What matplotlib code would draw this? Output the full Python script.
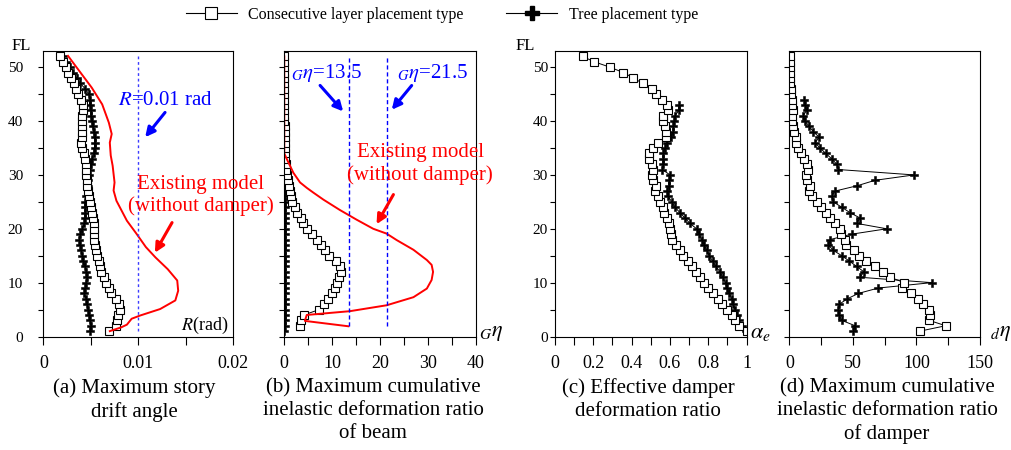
import matplotlib
matplotlib.use('Agg')
import matplotlib.pyplot as plt
from matplotlib.lines import Line2D
from matplotlib.ticker import FixedLocator, MultipleLocator, NullFormatter

plt.rcParams['font.family'] = ['Liberation Serif', 'DejaVu Serif']
plt.rcParams['mathtext.fontset'] = 'stix'

# ---------------- data ----------------
floors = list(range(1, 53))

# (a) maximum story drift angle [rad], floors 1..52
drift_consec = [0.0069, 0.0077, 0.0078, 0.0079, 0.0081, 0.0080, 0.0077, 0.0071, 0.0069, 0.0066,
                0.0064, 0.0061, 0.0060, 0.0059, 0.0057, 0.0055, 0.0054, 0.0053, 0.0053, 0.0053,
                0.0053, 0.0052, 0.0051, 0.0050, 0.0049, 0.0048, 0.0047, 0.0046, 0.0046, 0.0045,
                0.0045, 0.0045, 0.0044, 0.0043, 0.0041, 0.0040, 0.0041, 0.0041, 0.0041, 0.0041,
                0.0041, 0.0042, 0.0042, 0.0040, 0.0037, 0.0034, 0.0032, 0.0029, 0.0026, 0.0024,
                0.0021, 0.0018]
drift_tree = [0.0049, 0.0050, 0.0049, 0.0048, 0.0047, 0.0046, 0.0045, 0.0043, 0.0044, 0.0045,
              0.0046, 0.0045, 0.0044, 0.0042, 0.0041, 0.0040, 0.0039, 0.0038, 0.0039, 0.0041,
              0.0043, 0.0044, 0.0044, 0.0044, 0.0044, 0.0045, 0.0047, 0.0047, 0.0047, 0.0048,
              0.0049, 0.0050, 0.0051, 0.0053, 0.0054, 0.0054, 0.0054, 0.0053, 0.0052, 0.0051,
              0.0050, 0.0050, 0.0049, 0.0049, 0.0048, 0.0044, 0.0039, 0.0035, 0.0031, 0.0028,
              0.0024, 0.0021]
drift_exist_fl = [52.1, 46.2, 43.1, 39.7, 37.6, 36.0, 33.6, 31.7, 28.6, 27.1, 25.2, 21.5, 19.1,
                  16.6, 14.7, 12.5, 10.4, 8.5, 6.7, 5.1, 3.9, 3.3, 2.2, 1.7, 1.0]
drift_exist = [0.0026, 0.0051, 0.0062, 0.0069, 0.0072, 0.0070, 0.0071, 0.0073, 0.0075, 0.0074,
               0.0077, 0.0088, 0.0098, 0.0108, 0.0118, 0.0131, 0.0141, 0.0142, 0.0139, 0.0123,
               0.0102, 0.0093, 0.0088, 0.0082, 0.0070]
R_limit = 0.01

# (b) beam cumulative inelastic deformation ratio, floors 2..52
beam_floors = list(range(2, 53))
beam_consec = [3.3, 3.4, 4.1, 7.3, 8.2, 9.2, 9.9, 10.6, 11.1, 11.5, 11.8, 11.6, 10.9, 9.4, 8.5,
               7.6, 6.8, 5.7, 4.7, 4.0, 3.4, 2.7, 2.2, 1.7, 1.4, 1.2, 0.9, 0.7, 0.5, 0.4, 0.3,
               0.2, 0.2, 0.1, 0.1, 0.1, 0.1, 0.1, 0.0, 0.0, 0.0, 0.0, 0.0, 0.0, 0.0, 0.0, 0.0,
               0.0, 0.0, 0.0, 0.0]
beam_tree = [0.0, 0.1, 0.1, 0.2, 0.2, 0.2, 0.2, 0.2, 0.2, 0.2, 0.2, 0.2, 0.2, 0.2, 0.2, 0.2,
             0.2, 0.2, 0.2, 0.2, 0.2, 0.1, 0.1, 0.1, 0.1, 0.1, 0.1, 0.1, 0.1, 0.1, 0.1, 0.1,
             0.1, 0.0, 0.0, 0.0, 0.0, 0.0, 0.0, 0.0, 0.0, 0.0, 0.0, 0.0, 0.0, 0.0, 0.0, 0.0,
             0.0, 0.0, 0.0, 0.0]
beam_exist_fl = [52, 34, 33, 30.4, 28.6, 27.6, 26.7, 25.4, 23.5, 21.7, 20.0, 19.1, 17.9, 16.1,
                 14.2, 13.3, 12.0, 10.5, 8.9, 7.3, 5.8, 4.7, 4.0, 2.9, 1.9]
beam_exist = [0.0, 0.0, 0.5, 1.9, 3.3, 4.7, 6.1, 8.2, 11.6, 15.1, 18.6, 21.4, 23.5, 27.0, 29.8,
              30.8, 31.1, 30.8, 29.8, 27.0, 21.4, 13.7, 4.7, 4.3, 13.4]
G_eta_limits = [13.5, 21.5]

# (c) effective damper deformation ratio
alpha_consec = [1.0, 0.962, 0.939, 0.922, 0.900, 0.873, 0.852, 0.826, 0.800, 0.777, 0.757, 0.736,
                0.713, 0.692, 0.670, 0.652, 0.630, 0.609, 0.605, 0.600, 0.595, 0.583, 0.570,
                0.562, 0.548, 0.539, 0.522, 0.527, 0.513, 0.508, 0.513, 0.504, 0.490, 0.492,
                0.513, 0.539, 0.577, 0.577, 0.574, 0.565, 0.565, 0.591, 0.583, 0.557, 0.527,
                0.504, 0.457, 0.409, 0.357, 0.287, 0.205, 0.144]
tree_floors_c = list(range(1, 44))
alpha_tree = [0.995, 0.974, 0.962, 0.951, 0.939, 0.930, 0.922, 0.910, 0.896, 0.890, 0.875,
              0.861, 0.840, 0.823, 0.805, 0.791, 0.779, 0.765, 0.753, 0.739, 0.704, 0.678,
              0.652, 0.626, 0.609, 0.591, 0.583, 0.595, 0.595, 0.600, 0.560, 0.565, 0.565,
              0.565, 0.574, 0.583, 0.603, 0.617, 0.617, 0.621, 0.626, 0.647, 0.647]

# (d) damper cumulative inelastic deformation ratio
damp_consec = [102.8, 123.0, 109.9, 110.7, 109.9, 105.4, 101.5, 95.7, 88.9, 90.5, 79.2, 73.4,
               67.4, 60.3, 54.8, 50.9, 44.6, 43.8, 40.4, 39.9, 35.9, 32.0, 28.6, 24.9, 21.5,
               18.1, 15.5, 16.3, 13.6, 12.9, 14.9, 14.2, 11.5, 8.9, 6.6, 5.2, 5.2, 3.7, 2.6,
               1.8, 2.4, 3.1, 2.4, 1.8, 1.3, 1.0, 0.5, 0.5, 0.5, 0.5, 0.5, 0.5]
tree_floors_d = list(range(1, 45))
damp_tree = [50.4, 51.7, 41.2, 39.1, 38.5, 39.3, 45.6, 54.3, 70.0, 112.0, 55.6, 58.7, 53.0,
             47.2, 41.2, 34.6, 30.7, 32.0, 49.0, 76.6, 53.0, 55.6, 47.7, 41.2, 34.6, 33.3,
             35.9, 53.5, 67.4, 98.1, 38.6, 37.2, 33.3, 28.6, 24.1, 20.2, 23.6, 18.9, 15.7,
             12.3, 11.0, 13.6, 12.3, 11.8]

labels = ['Consecutive layer placement type', 'Tree placement type']

# ---------------- figure ----------------
fig = plt.figure(figsize=(10.12, 4.5), dpi=100)
bottom, height = 0.2522, 0.6344
ax_a = fig.add_axes([0.0428, bottom, 0.1877, height])
ax_b = fig.add_axes([0.2809, bottom, 0.1891, height])
ax_c = fig.add_axes([0.5484, bottom, 0.1894, height])
ax_d = fig.add_axes([0.7800, bottom, 0.1884, height])

sq = dict(color='k', lw=0.7, marker='s', ms=6, mfc='white', mec='k', mew=0.8)
pl = dict(color='k', lw=0.7, marker='P', ms=6, mfc='k', mec='k', mew=0.4)

for ax in (ax_a, ax_b, ax_c, ax_d):
    ax.set_ylim(0, 53)
    for s in ax.spines.values():
        s.set_linewidth(0.8)
    ax.tick_params(axis='x', which='both', direction='out', length=6, width=0.8,
                   labelsize=13, pad=7, top=False)
    ax.tick_params(axis='y', which='both', direction='out', length=3.6, width=0.8,
                   labelsize=11, right=False)

# (a)
ax_a.plot(drift_tree, floors, **pl)
ax_a.plot(drift_consec, floors, **sq)
ax_a.plot(drift_exist, drift_exist_fl, color='red', lw=1.4)
ax_a.vlines(R_limit, 1, 52, colors='#3c3cff', linestyles=(0, (2, 2)), lw=1.0)
ax_a.set_xlim(0, 0.02)
ax_a.xaxis.set_major_locator(FixedLocator([0, 0.01, 0.02]))
ax_a.set_xticklabels(['0', '0.01', '0.02'])
ax_a.xaxis.set_minor_locator(FixedLocator([0.005, 0.015]))
ax_a.yaxis.set_major_locator(MultipleLocator(10))
ax_a.yaxis.set_minor_locator(MultipleLocator(5))
ax_a.tick_params(axis='y', pad=11)
ax_a.text(-0.0023, 54.0, 'FL', fontsize=12, ha='center', va='center')
ax_a.text(0.0195, 2.1, '$R$(rad)', fontsize=13, ha='right', va='center')
ax_a.text(0.0129, 43.8, '$R$=0.01 rad', color='blue', fontsize=15, ha='center', va='center')
ax_a.annotate('', xy=(0.01054, 36.6), xytext=(0.0130, 42.0),
              arrowprops=dict(arrowstyle='-|>', color='blue', lw=2.2, mutation_scale=14))
ax_a.text(0.0166, 26.2, 'Existing model\n(without damper)', color='red', fontsize=15,
          ha='center', va='center', linespacing=1.2)
ax_a.annotate('', xy=(0.0116, 15.1), xytext=(0.0137, 21.6),
              arrowprops=dict(arrowstyle='-|>', color='red', lw=2.2, mutation_scale=14))

# (b)
ax_b.plot(beam_tree, floors, **pl)
ax_b.plot(beam_consec, beam_floors, **sq)
ax_b.plot(beam_exist, beam_exist_fl, color='red', lw=1.4)
ax_b.vlines(G_eta_limits, 2, 52, colors='blue', linestyles=(0, (3, 2)), lw=1.0)
ax_b.set_xlim(0, 40)
ax_b.xaxis.set_major_locator(MultipleLocator(10))
ax_b.xaxis.set_minor_locator(MultipleLocator(5))
ax_b.yaxis.set_major_locator(MultipleLocator(5))
ax_b.yaxis.set_major_formatter(NullFormatter())
ax_b.text(1.5, 49.0, '${}_{G}\\eta$=13.5', color='blue', fontsize=15, ha='left', va='center')
ax_b.text(23.5, 49.0, '${}_{G}\\eta$=21.5', color='blue', fontsize=15, ha='left', va='center')
ax_b.annotate('', xy=(12.7, 41.4), xytext=(7.1, 47.0),
              arrowprops=dict(arrowstyle='-|>', color='blue', lw=2.2, mutation_scale=14))
ax_b.annotate('', xy=(22.1, 41.7), xytext=(27.0, 47.0),
              arrowprops=dict(arrowstyle='-|>', color='blue', lw=2.2, mutation_scale=14))
ax_b.text(28.4, 32.0, 'Existing model\n(without damper)', color='red', fontsize=15,
          ha='center', va='center', linespacing=1.2)
ax_b.annotate('', xy=(19.0, 20.4), xytext=(23.1, 26.8),
              arrowprops=dict(arrowstyle='-|>', color='red', lw=2.2, mutation_scale=14))
ax_b.text(1.017, 0.012, '${}_{G}\\eta$', transform=ax_b.transAxes, fontsize=16,
          ha='left', va='center')

# (c)
ax_c.plot(alpha_tree, tree_floors_c, **pl)
ax_c.plot(alpha_consec, floors, **sq)
ax_c.set_xlim(0, 1)
ax_c.xaxis.set_major_locator(FixedLocator([0, 0.2, 0.4, 0.6, 0.8, 1.0]))
ax_c.set_xticklabels(['0', '0.2', '0.4', '0.6', '0.8', '1'])
ax_c.xaxis.set_minor_locator(MultipleLocator(0.1))
ax_c.yaxis.set_major_locator(MultipleLocator(10))
ax_c.yaxis.set_minor_locator(MultipleLocator(5))
ax_c.tick_params(axis='y', pad=1.5)
ax_c.text(-0.155, 54.0, 'FL', fontsize=12, ha='center', va='center')
ax_c.text(1.02, 0.012, '$\\alpha_e$', transform=ax_c.transAxes, fontsize=16,
          ha='left', va='center')

# (d)
ax_d.plot(damp_tree, tree_floors_d, **pl)
ax_d.plot(damp_consec, floors, **sq)
ax_d.set_xlim(0, 150)
ax_d.xaxis.set_major_locator(MultipleLocator(50))
ax_d.xaxis.set_minor_locator(MultipleLocator(25))
ax_d.yaxis.set_major_locator(MultipleLocator(5))
ax_d.yaxis.set_major_formatter(NullFormatter())
ax_d.text(1.052, 0.012, '${}_{d}\\eta$', transform=ax_d.transAxes, fontsize=16,
          ha='left', va='center')

# panel captions
captions = ['(a) Maximum story\ndrift angle',
            '(b) Maximum cumulative\ninelastic deformation ratio\nof beam',
            '(c) Effective damper\ndeformation ratio',
            '(d) Maximum cumulative\ninelastic deformation ratio\nof damper']
cap_x = [134.5 / 1012, 373 / 1012, 648 / 1012, 887 / 1012]
for cx, cap in zip(cap_x, captions):
    fig.text(cx, 1 - 378 / 450, cap, fontsize=15, ha='center', va='top', linespacing=1.28)

# legend
h1 = Line2D([], [], color='k', lw=0.8, marker='s', ms=9, mfc='white', mec='k', mew=0.8)
h2 = Line2D([], [], color='k', lw=0.8, marker='P', ms=10, mfc='k', mec='k')
fig.legend([h1, h2], labels, loc='center', bbox_to_anchor=(0.4365, 0.967), ncol=2,
           frameon=False, fontsize=11.5, handlelength=3.2, handletextpad=0.7,
           columnspacing=2.7, borderpad=0)

fig.savefig('out.png', dpi=100)
